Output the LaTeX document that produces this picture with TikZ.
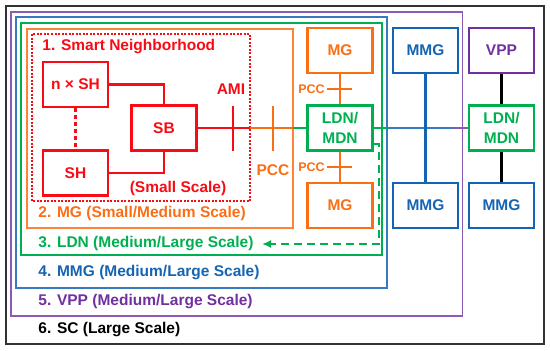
\documentclass[tikz,border=0pt]{standalone}
\usepackage{fontspec}
\setmainfont{Liberation Sans}
\usetikzlibrary{positioning,arrows.meta}
\definecolor{snred}{RGB}{250,10,20}
\definecolor{mgorange}{RGB}{250,110,20}
\definecolor{ldngreen}{RGB}{0,176,80}
\definecolor{mmgblue}{RGB}{20,100,180}
\definecolor{vpppurple}{RGB}{112,48,160}
\definecolor{sclineblack}{RGB}{50,50,50}

\begin{document}
\begin{tikzpicture}[
			x=1pt,y=-1pt,
			box/.style={
				draw,
				line width=2.5pt,
				minimum width=65pt,
				minimum height=45pt,
				inner sep=0pt,
				align=center,
				font=\fontsize{15.5}{20}\selectfont\bfseries
			},
			zone/.style={draw,line width=1.6pt},
			link/.style={line width=2.5pt},
			lbl/.style={anchor=west,inner sep=0pt,font=\fontsize{15.5}{18}\selectfont\bfseries},
			small/.style={inner sep=0pt,font=\fontsize{12.5}{14}\selectfont\bfseries},
			>=latex,
			thick
			]
			
			\useasboundingbox (0,0) rectangle (550,351);
			
			\draw[zone,sclineblack,line width=1.8pt] (6,6) rectangle (544,344);
			\draw[zone,vpppurple!80] (11,12) rectangle (462.5,316);
			\draw[zone,mmgblue!85] (16,17) rectangle (387,288);
			\draw[zone,ldngreen] (21,23) rectangle (382,255);
			\draw[zone,mgorange!85] (27,29) rectangle (293,228);
			\draw[snred,line width=1.4pt,dash pattern=on 2pt off 1.5pt] (32,34) rectangle (250,201);
			
			\node[box,snred] (SB) at (164,128) {SB};
			\node[box,snred] (NSH) at (75.5,84.5) {n × SH};
			\node[box,snred,below=41pt of NSH] (SH) {SH};
			
			\node[box,ldngreen] (LDN) at (340,128) {LDN/\\MDN};
			\node[box,mgorange,above=30pt of LDN] (MGa) {MG};
			\node[box,mgorange,below=30pt of LDN] (MGb) {MG};
			\node[box,mmgblue,right=18pt of MGa] (MMGa) {MMG};
			\node[box,mmgblue,right=18pt of MGb] (MMGb) {MMG};
			\node[box,vpppurple,right=8.5pt of MMGa] (VPP) {VPP};
			\node[box,ldngreen,below=30pt of VPP] (LDNb) {LDN/\\MDN};
			\node[box,mmgblue,right=8.5pt of MMGb] (MMGc) {MMG};
			
			\coordinate (redout) at (250,128);
			\coordinate (orout) at (293,128);
			\coordinate (greenout) at (387,128);
			\coordinate (blueout) at (453,128);
			\coordinate (back) at (262,244);
			
			\draw[link,snred] (NSH.east) -| (SB.north);
			\draw[link,snred] (SH.east) -| (SB.south);
			\draw[link,snred,dash pattern=on 4pt off 3pt] (NSH) -- (SH);
			\draw[link,snred] (SB.east) -- (redout);
			\draw[link,mgorange] (redout) -- (orout);
			\draw[link,ldngreen] (orout) -- (LDN.west);
			\draw[link,snred] (233,106) -- ++(0,45);
			\draw[link,mgorange] (273,106) -- ++(0,45);
			
			\draw[link,mgorange] (MGa) -- (LDN);
			\draw[link,mgorange] (MGb) -- (LDN);
			\draw[link,mgorange] (327,89) -- ++(25,0);
			\draw[link,mgorange] (327,167) -- ++(25,0);
			
			\draw[link,ldngreen] (LDN.east) -- (greenout);
			\draw[link,mmgblue!85] (greenout) -- (blueout);
			\draw[link,vpppurple!80] (blueout) -- (LDNb.west);
			\draw[link,mmgblue] (MMGa) -- (MMGb);
			\draw[link,black] (VPP) -- (LDNb);
			\draw[link,black] (LDNb) -- (MMGc);
			
			\draw[ldngreen,line width=2pt,dash pattern=on 8pt off 5pt,-{Latex[length=9pt,width=8pt]}]
				([yshift=7.5pt]LDN.south east) -- ++(5,0) |- (back);
			
			\node[lbl,snred] (T1) at (42,47) {1. Smart Neighborhood};
			\node[lbl,snred,anchor=center] (T1s) at (178,188) {(Small Scale)};
			\node[lbl,mgorange] (T2) at (38,213) {2. MG (Small/Medium Scale)};
			\node[lbl,ldngreen] (T3) at (38,244) {3. LDN (Medium/Large Scale)};
			\node[lbl,mmgblue] (T4) at (38,273) {4. MMG (Medium/Large Scale)};
			\node[lbl,vpppurple] (T5) at (38,302) {5. VPP (Medium/Large Scale)};
			\node[lbl,black] (T6) at (38,330) {6. SC (Large Scale)};
			
			\node[lbl,snred,anchor=center] (AMI) at (231,89) {AMI};
			\node[lbl,mgorange,anchor=center] (PCC) at (273,170) {PCC};
			\node[small,mgorange] (PCCa) at (311.5,89) {PCC};
			\node[small,mgorange] (PCCb) at (311.5,167) {PCC};
			
		\end{tikzpicture}
\end{document}
